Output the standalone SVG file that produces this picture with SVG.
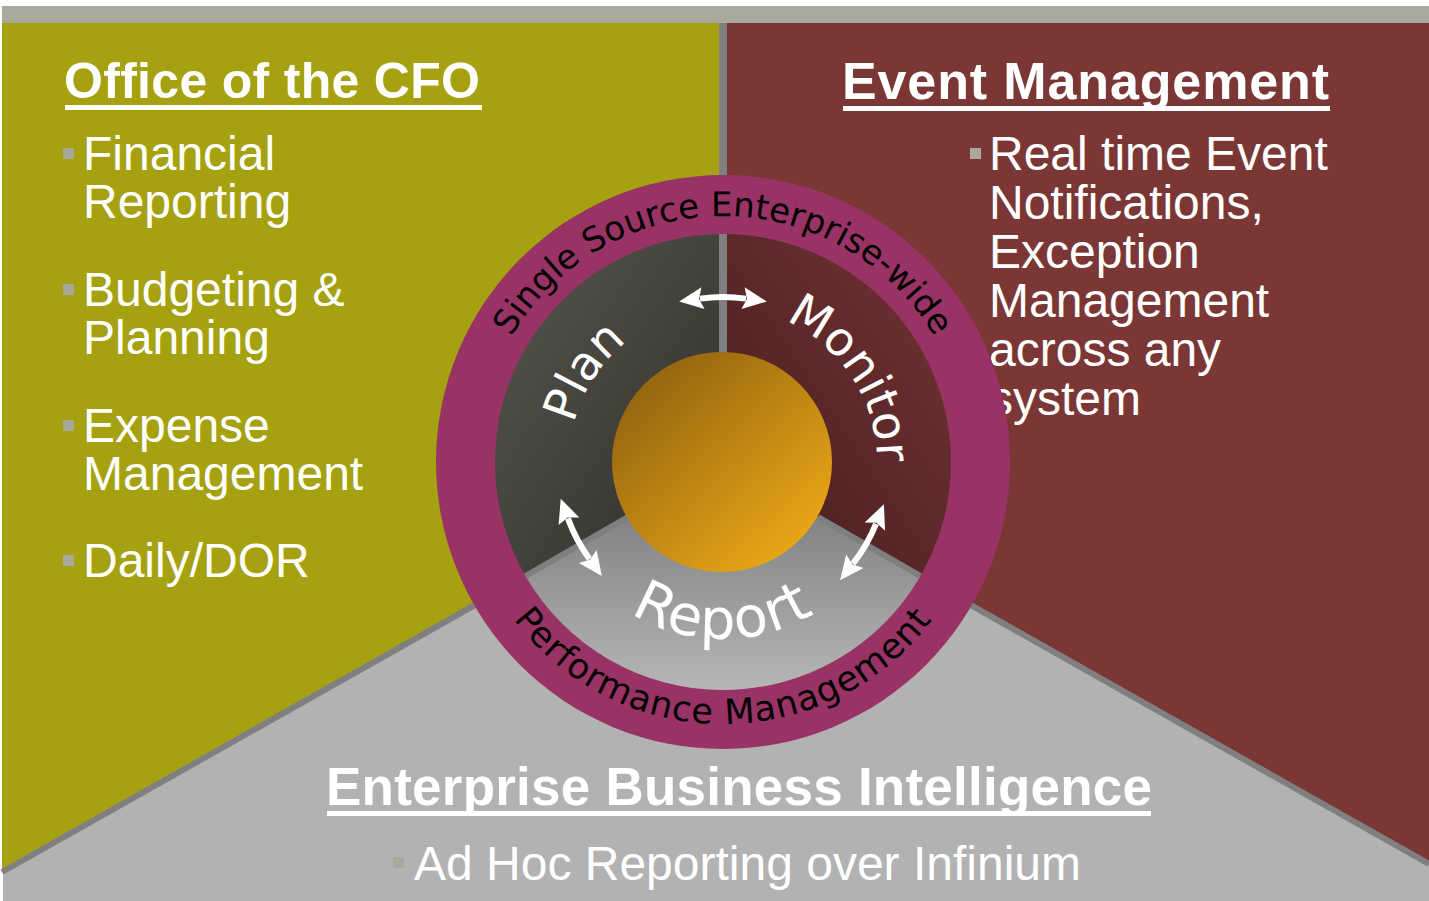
<svg xmlns="http://www.w3.org/2000/svg" width="1429" height="901" viewBox="0 0 1429 901">
<style>
.hd{font-family:"Liberation Sans",Arial,sans-serif;font-weight:bold;fill:#fff}
.bt{font-family:"Liberation Sans",Arial,sans-serif;font-size:48px;fill:#fff}
.bul{fill:#a8a89b}
.ul{fill:#fff}
.ring{font-family:"DejaVu Sans",Verdana,sans-serif;fill:#000}
.lbl{font-family:"DejaVu Sans",Verdana,sans-serif;fill:#fff}
.div{stroke:#7f7f7f;fill:none}
.arr{stroke:#fff;stroke-width:6;fill:none;marker-start:url(#ah);marker-end:url(#ah)}
</style>
<defs>
<linearGradient id="gPlan" x1="0" y1="0" x2="1" y2="1"><stop offset="0" stop-color="#58574e"/><stop offset="1" stop-color="#2d2c27"/></linearGradient>
<linearGradient id="gMon" x1="1" y1="0" x2="0" y2="1"><stop offset="0" stop-color="#723434"/><stop offset="1" stop-color="#461c1d"/></linearGradient>
<linearGradient id="gRep" x1="0" y1="0" x2="0" y2="1"><stop offset="0" stop-color="#737373"/><stop offset="1" stop-color="#b6b6b6"/></linearGradient>
<linearGradient id="gOr" x1="0.15" y1="0.1" x2="0.85" y2="0.9"><stop offset="0" stop-color="#94650f"/><stop offset="1" stop-color="#eaa717"/></linearGradient>
<marker id="ah" markerUnits="userSpaceOnUse" viewBox="-4 -12 26 24" refX="0" refY="0" markerWidth="26" markerHeight="24" orient="auto-start-reverse">
<path d="M-3,-11 L21,0 L-3,11 L1,0 Z" fill="#fff"/>
</marker>
<path id="pTop" d="M477,462 A246,246 0 0 1 969,462"/>
<path id="pBot" d="M461,462 A262,262 0 0 0 985,462"/>
<path id="pPlan" d="M618,574.6 A154,154 0 0 1 783.2,320.2"/>
<path id="pMon" d="M662.8,320.2 A154,154 0 0 1 828,574.6"/>
<path id="pRep" d="M548.7,492.7 A177,177 0 0 0 897.3,492.7"/>
</defs>

<g id="background">
<rect x="2" y="6" width="1427" height="17" fill="#a9a99d"/>
<rect x="3" y="23" width="1426" height="878" fill="#b2b2b2"/>
<polygon points="2,23 723,23 723,462 2,869" fill="#a6a111"/>
<polygon points="723,23 1429,23 1429,861 723,462" fill="#7b3735"/>
<line class="div" x1="723" y1="23" x2="723" y2="462" stroke-width="8"/>
<line class="div" x1="723" y1="465" x2="2" y2="872" stroke-width="6"/>
<line class="div" x1="723" y1="465" x2="1429" y2="864" stroke-width="6"/>
</g>

<g id="cfo">
<text class="hd" x="64" y="98" font-size="50" textLength="416">Office of the CFO</text>
<rect class="ul" x="65" y="105" width="417" height="5"/>
<rect class="bul" x="63" y="148" width="11" height="11"/>
<text class="bt" x="83" y="170">Financial</text>
<text class="bt" x="83" y="218">Reporting</text>
<rect class="bul" x="63" y="284" width="11" height="11"/>
<text class="bt" x="83" y="306">Budgeting &amp;</text>
<text class="bt" x="83" y="354">Planning</text>
<rect class="bul" x="63" y="420" width="11" height="11"/>
<text class="bt" x="83" y="442">Expense</text>
<text class="bt" x="83" y="490">Management</text>
<rect class="bul" x="63" y="555" width="11" height="11"/>
<text class="bt" x="83" y="577">Daily/DOR</text>
</g>

<g id="event">
<text class="hd" x="842" y="99" font-size="52" textLength="487">Event Management</text>
<rect class="ul" x="843" y="106" width="487" height="5"/>
<rect class="bul" x="970" y="148" width="11" height="11"/>
<text class="bt" x="989" y="170">Real time Event</text>
<text class="bt" x="989" y="219">Notifications,</text>
<text class="bt" x="989" y="268">Exception</text>
<text class="bt" x="989" y="317">Management</text>
<text class="bt" x="989" y="366">across any</text>
<text class="bt" x="989" y="415">system</text>
</g>

<g id="ebi">
<text class="hd" x="326" y="805" font-size="53" textLength="826">Enterprise Business Intelligence</text>
<rect class="ul" x="327" y="811" width="824" height="5"/>
<rect class="bul" x="393" y="857" width="11" height="11"/>
<text class="bt" x="414" y="880">Ad Hoc Reporting over Infinium</text>
</g>

<g id="cycle">
<circle cx="723" cy="462" r="287" fill="#993366"/>
<path d="M723,462 L525.5,576 A228,228 0 0 1 723,234 Z" fill="url(#gPlan)"/>
<path d="M723,462 L723,234 A228,228 0 0 1 920.5,576 Z" fill="url(#gMon)"/>
<path d="M723,462 L920.5,576 A228,228 0 0 1 525.5,576 Z" fill="url(#gRep)"/>
<line class="div" x1="723" y1="234" x2="723" y2="360" stroke-width="8"/>
<line class="div" x1="628" y1="517" x2="525.5" y2="576" stroke-width="6" stroke="#777"/>
<line class="div" x1="818" y1="517" x2="920.5" y2="576" stroke-width="6" stroke="#777"/>
<circle cx="722" cy="462" r="110" fill="url(#gOr)"/>
<text class="ring" font-size="34"><textPath href="#pTop" startOffset="50%" text-anchor="middle">Single Source Enterprise-wide</textPath></text>
<text class="ring" font-size="35" letter-spacing="1"><textPath href="#pBot" startOffset="50%" text-anchor="middle">Performance Management</textPath></text>
</g>

<g id="plan"><text class="lbl" font-size="47"><textPath href="#pPlan" startOffset="50%" text-anchor="middle">Plan</textPath></text></g>
<g id="monitor"><text class="lbl" font-size="47"><textPath href="#pMon" startOffset="50%" text-anchor="middle">Monitor</textPath></text></g>
<g id="report"><text class="lbl" font-size="56" letter-spacing="1.5"><textPath href="#pRep" startOffset="50%" text-anchor="middle">Report</textPath></text></g>

<g id="connectors">
<path class="arr" d="M700,298.6 A165,165 0 0 1 746,298.6"/>
<path class="arr" d="M567.9,518.4 A165,165 0 0 0 589.5,559"/>
<path class="arr" d="M876,523.8 A165,165 0 0 1 853,563.6"/>
</g>
</svg>
